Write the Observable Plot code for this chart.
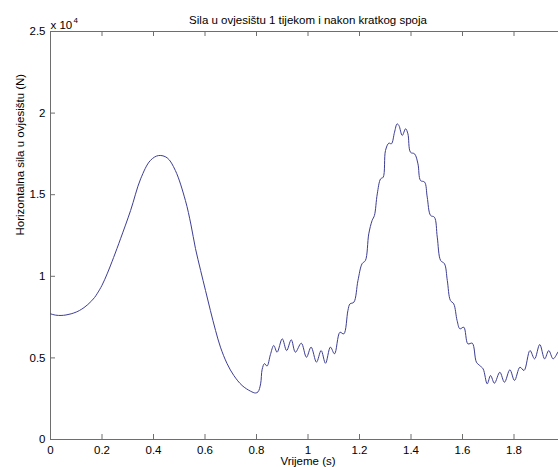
<!DOCTYPE html>
<html><head><meta charset="utf-8">
<script src="https://cdn.jsdelivr.net/npm/d3@7"></script>
<script src="https://cdn.jsdelivr.net/npm/@observablehq/plot@0.6"></script>
<style>html,body{margin:0;padding:0;background:#fff;overflow:hidden} svg{display:block}</style>
</head><body><div id="chart"></div>
<script>
// Time (s)
const time = [0.000,0.020,0.041,0.060,0.080,0.100,0.113,0.130,0.145,0.160,0.171,0.181,0.200,0.220,0.245,0.272,0.311,0.350,0.388,0.420,0.453,0.485,0.524,0.545,0.563,0.583,0.602,0.621,0.641,0.660,0.686,0.712,0.744,0.777,0.796,0.806,0.816,0.822,0.831,0.841,0.854,0.867,0.880,0.900,0.917,0.935,0.951,0.974,0.994,1.012,1.033,1.051,1.068,1.087,1.103,1.124,1.139,1.155,1.163,1.178,1.194,1.210,1.223,1.236,1.249,1.258,1.269,1.282,1.292,1.301,1.314,1.324,1.336,1.346,1.353,1.366,1.379,1.388,1.398,1.414,1.427,1.437,1.453,1.463,1.476,1.491,1.502,1.515,1.530,1.541,1.553,1.566,1.579,1.590,1.605,1.621,1.638,1.654,1.667,1.680,1.696,1.709,1.724,1.745,1.763,1.784,1.802,1.823,1.839,1.862,1.880,1.900,1.919,1.935,1.952,1.970];
// Horizontal force (N)
const force = [7700,7620,7600,7630,7700,7810,7910,8080,8270,8500,8700,8930,9450,10150,11150,12300,14030,15970,17100,17400,17260,16480,14640,13200,11700,10360,9130,7900,6680,5660,4640,3920,3310,2960,2850,2920,3410,4300,4650,4500,5200,5760,5350,6170,5450,6110,5350,5900,5040,5660,4740,5450,4670,5660,5250,6570,6470,7900,8310,8410,9740,10770,10970,12600,13420,13730,15050,15970,16070,17710,18160,18120,18830,19340,19240,18630,19040,18730,17600,17500,16890,15870,15770,14850,13730,13620,12400,10970,10770,9740,8520,8310,7290,6780,6880,5860,5900,4740,4530,4330,3410,3920,3450,4120,3510,4270,3620,4430,4230,5450,4940,5820,4940,5450,4940,5350];
const xTicks = [0,0.2,0.4,0.6,0.8,1,1.2,1.4,1.6,1.8];
const xTickLabels = ["0","0.2","0.4","0.6","0.8","1","1.2","1.4","1.6","1.8"];
const yTicks = [0,5000,10000,15000,20000,25000];
const yTickLabels = ["0","0.5","1","1.5","2","2.5"];
const xLimits = [0, 2];
const yLimits = [0, 25000];
const title = "Sila u ovjesištu 1 tijekom i nakon kratkog spoja";
const xLabel = "Vrijeme (s)";
const yLabel = "Horizontalna sila u ovjesištu (N)";
const multiplier = "x 10";
const exponent = "4";

const data = time.map((t, i) => ({t, f: force[i]}));
const W = 558, H = 467, mL = 50, mR = 0, mT = 31, mB = 28;
const plotW = W - mL - mR, plotH = H - mT - mB, tick = 5;
// visible part of the MATLAB axis (the figure is cropped on the right)
const xVisibleMax = xLimits[0] + (xLimits[1] - xLimits[0]) * plotW / (565 - mL);
const fmtX = d => xTickLabels[xTicks.indexOf(d)];
const fmtY = d => yTickLabels[yTicks.indexOf(d)];
const axisColor = "#6e6e6e";
const fs = 11.5;

const plot = Plot.plot({
  width: W, height: H, marginLeft: mL, marginRight: mR, marginTop: mT, marginBottom: mB,
  style: {fontFamily: "'Liberation Sans', Arial, Helvetica, sans-serif", fontSize: fs + "px", background: "#fff", color: "#000", overflow: "visible"},
  x: {domain: [xLimits[0], xVisibleMax]},
  y: {domain: yLimits},
  marks: [
    Plot.ruleX([xLimits[0]], {stroke: axisColor}),
    Plot.ruleY([yLimits[0], yLimits[1]], {stroke: axisColor}),
    // inward ticks (MATLAB style)
    Plot.tickX(xTicks, {x: d => d, insetTop: plotH - tick, stroke: axisColor}),
    Plot.tickX(xTicks, {x: d => d, insetBottom: plotH - tick, stroke: axisColor}),
    Plot.tickY(yTicks, {y: d => d, insetRight: plotW - tick, stroke: axisColor}),
    Plot.axisX(xTicks, {anchor: "bottom", tickSize: 0, tickPadding: 6, tickFormat: fmtX, label: null, fill: "#000"}),
    Plot.axisY(yTicks, {anchor: "left", tickSize: 0, tickPadding: 5, tickFormat: fmtY, label: null, fill: "#000"}),
    Plot.line(data, {x: "t", y: "f", stroke: "#3d3d94", strokeWidth: 1, curve: "catmull-rom"}),
    Plot.text([title], {x: () => (xLimits[0] + xLimits[1]) / 2, frameAnchor: "top", lineAnchor: "bottom", dy: -8, fontSize: fs, fill: "#000"}),
    Plot.text([xLabel], {x: () => (xLimits[0] + xLimits[1]) / 2, frameAnchor: "bottom", lineAnchor: "top", dy: 17, fontSize: fs, fill: "#000"}),
    Plot.text([yLabel], {frameAnchor: "left", rotate: -90, dx: -30, fontSize: fs, fill: "#000"}),
    Plot.text([multiplier], {frameAnchor: "top-left", textAnchor: "start", lineAnchor: "bottom", dy: -3, fontSize: fs, fill: "#000"}),
    Plot.text([exponent], {frameAnchor: "top-left", textAnchor: "start", lineAnchor: "bottom", dx: 23, dy: -9, fontSize: 8, fill: "#000"})
  ]
});
document.getElementById("chart").append(plot);
</script>
</body></html>
